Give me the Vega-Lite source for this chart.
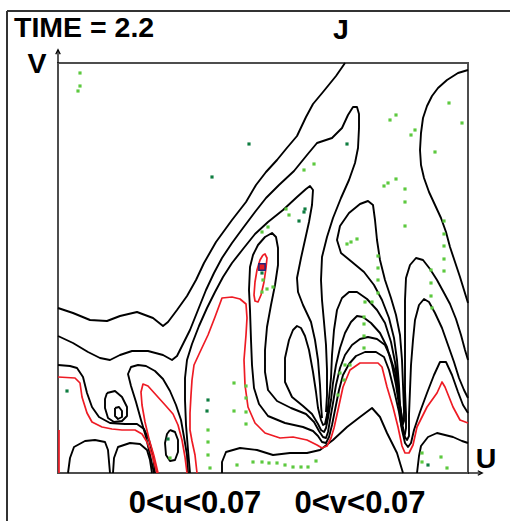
{
"$schema": "https://vega.github.io/schema/vega-lite/v6.json",
"width": 410, "height": 410,
"autosize": {"type": "none"},
"padding": {"left": 58, "top": 63, "right": 42, "bottom": 48},
"background": "white",
"config": {"view": {"stroke": "#4d4d4d", "strokeWidth": 2}},
"datasets": {
"blk": [
{"i":"B1","x":58,"y":308},{"i":"B1","x":73,"y":313},{"i":"B1","x":90,"y":320},{"i":"B1","x":107,"y":321},{"i":"B1","x":120,"y":316},{"i":"B1","x":137,"y":312},{"i":"B1","x":153,"y":318},{"i":"B1","x":163,"y":326},{"i":"B1","x":168,"y":322},{"i":"B1","x":177,"y":310},{"i":"B1","x":187,"y":296},{"i":"B1","x":196,"y":280},{"i":"B1","x":204,"y":263},{"i":"B1","x":216,"y":242},{"i":"B1","x":232,"y":220},{"i":"B1","x":246,"y":202},{"i":"B1","x":256,"y":185},{"i":"B1","x":266,"y":172},{"i":"B1","x":277,"y":160},{"i":"B1","x":286,"y":149},{"i":"B1","x":297,"y":136},{"i":"B1","x":306,"y":117},{"i":"B1","x":313,"y":104},{"i":"B1","x":323,"y":92},{"i":"B1","x":336,"y":76},{"i":"B1","x":345,"y":63},
{"i":"B2","x":58,"y":336},{"i":"B2","x":73,"y":343},{"i":"B2","x":88,"y":352},{"i":"B2","x":100,"y":358},{"i":"B2","x":110,"y":360},{"i":"B2","x":120,"y":355},{"i":"B2","x":132,"y":351},{"i":"B2","x":148,"y":351},{"i":"B2","x":163,"y":355},{"i":"B2","x":172,"y":360},{"i":"B2","x":177,"y":356},{"i":"B2","x":182,"y":346},{"i":"B2","x":190,"y":330},{"i":"B2","x":198,"y":310},{"i":"B2","x":206,"y":290},{"i":"B2","x":214,"y":273},{"i":"B2","x":222,"y":258},{"i":"B2","x":232,"y":243},{"i":"B2","x":243,"y":228},{"i":"B2","x":255,"y":212},{"i":"B2","x":266,"y":198},{"i":"B2","x":279,"y":185},{"i":"B2","x":294,"y":171},{"i":"B2","x":307,"y":155},{"i":"B2","x":317,"y":143},{"i":"B2","x":332,"y":138},{"i":"B2","x":342,"y":128},{"i":"B2","x":348,"y":115},{"i":"B2","x":353,"y":107},{"i":"B2","x":357,"y":107},{"i":"B2","x":359,"y":114},{"i":"B2","x":359,"y":128},{"i":"B2","x":358,"y":148},{"i":"B2","x":355,"y":163},{"i":"B2","x":349,"y":180},{"i":"B2","x":341,"y":198},{"i":"B2","x":333,"y":218},{"i":"B2","x":327,"y":237},{"i":"B2","x":322,"y":257},{"i":"B2","x":321,"y":280},{"i":"B2","x":322,"y":300},{"i":"B2","x":324,"y":322},{"i":"B2","x":326,"y":345},{"i":"B2","x":327,"y":370},{"i":"B2","x":327,"y":395},{"i":"B2","x":326,"y":412},
{"i":"C3","x":190,"y":473},{"i":"C3","x":188,"y":450},{"i":"C3","x":186,"y":425},{"i":"C3","x":185,"y":400},{"i":"C3","x":185,"y":378},{"i":"C3","x":187,"y":360},{"i":"C3","x":192,"y":344},{"i":"C3","x":199,"y":326},{"i":"C3","x":207,"y":308},{"i":"C3","x":215,"y":292},{"i":"C3","x":223,"y":277},{"i":"C3","x":232,"y":263},{"i":"C3","x":243,"y":249},{"i":"C3","x":255,"y":234},{"i":"C3","x":268,"y":222},{"i":"C3","x":283,"y":210},{"i":"C3","x":297,"y":197},{"i":"C3","x":306,"y":189},{"i":"C3","x":310,"y":186},{"i":"C3","x":313,"y":190},{"i":"C3","x":312,"y":205},{"i":"C3","x":309,"y":222},{"i":"C3","x":305,"y":240},{"i":"C3","x":301,"y":258},{"i":"C3","x":297,"y":278},{"i":"C3","x":298,"y":292},{"i":"C3","x":303,"y":305},{"i":"C3","x":311,"y":322},{"i":"C3","x":315,"y":340},{"i":"C3","x":318,"y":360},{"i":"C3","x":320,"y":385},{"i":"C3","x":321,"y":405},{"i":"C3","x":322,"y":418},
{"i":"P1","x":468,"y":413},{"i":"P1","x":463,"y":405},{"i":"P1","x":458,"y":392},{"i":"P1","x":452,"y":375},{"i":"P1","x":446,"y":362},{"i":"P1","x":440,"y":362},{"i":"P1","x":434,"y":375},{"i":"P1","x":427,"y":393},{"i":"P1","x":420,"y":412},{"i":"P1","x":414,"y":430},{"i":"P1","x":411,"y":443},{"i":"P1","x":408,"y":447},{"i":"P1","x":405,"y":443},{"i":"P1","x":402,"y":430},{"i":"P1","x":399,"y":412},{"i":"P1","x":394,"y":390},{"i":"P1","x":389,"y":370},{"i":"P1","x":384,"y":357},{"i":"P1","x":376,"y":352},{"i":"P1","x":365,"y":352},{"i":"P1","x":356,"y":356},{"i":"P1","x":349,"y":364},{"i":"P1","x":343,"y":375},{"i":"P1","x":339,"y":390},{"i":"P1","x":335,"y":410},{"i":"P1","x":332,"y":425},{"i":"P1","x":329,"y":437},{"i":"P1","x":326,"y":443},{"i":"P1","x":322,"y":442},{"i":"P1","x":318,"y":436},{"i":"P1","x":313,"y":431},{"i":"P1","x":303,"y":427},{"i":"P1","x":285,"y":423},{"i":"P1","x":268,"y":416},{"i":"P1","x":259,"y":404},{"i":"P1","x":254,"y":388},{"i":"P1","x":252,"y":365},{"i":"P1","x":251,"y":340},{"i":"P1","x":250,"y":310},{"i":"P1","x":249,"y":290},{"i":"P1","x":250,"y":267},{"i":"P1","x":253,"y":255},{"i":"P1","x":258,"y":245},{"i":"P1","x":265,"y":237},{"i":"P1","x":272,"y":233},{"i":"P1","x":276,"y":237},{"i":"P1","x":278,"y":248},{"i":"P1","x":278,"y":265},{"i":"P1","x":275,"y":285},{"i":"P1","x":271,"y":305},{"i":"P1","x":267,"y":327},{"i":"P1","x":265,"y":350},{"i":"P1","x":265,"y":372},{"i":"P1","x":268,"y":390},{"i":"P1","x":277,"y":401},{"i":"P1","x":291,"y":408},{"i":"P1","x":306,"y":414},{"i":"P1","x":314,"y":422},{"i":"P1","x":319,"y":431},{"i":"P1","x":323,"y":437},{"i":"P1","x":326,"y":438},{"i":"P1","x":328,"y":432},{"i":"P1","x":330,"y":420},{"i":"P1","x":333,"y":403},{"i":"P1","x":336,"y":385},{"i":"P1","x":340,"y":368},{"i":"P1","x":345,"y":355},{"i":"P1","x":352,"y":345},{"i":"P1","x":360,"y":339},{"i":"P1","x":368,"y":337},{"i":"P1","x":377,"y":339},{"i":"P1","x":385,"y":345},{"i":"P1","x":390,"y":356},{"i":"P1","x":395,"y":372},{"i":"P1","x":398,"y":392},{"i":"P1","x":401,"y":412},{"i":"P1","x":403,"y":428},{"i":"P1","x":405,"y":437},{"i":"P1","x":407,"y":440},{"i":"P1","x":409,"y":436},{"i":"P1","x":409,"y":415},{"i":"P1","x":410,"y":390},{"i":"P1","x":411,"y":365},{"i":"P1","x":413,"y":340},{"i":"P1","x":415,"y":320},{"i":"P1","x":419,"y":305},{"i":"P1","x":424,"y":299},{"i":"P1","x":429,"y":302},{"i":"P1","x":435,"y":313},{"i":"P1","x":442,"y":328},{"i":"P1","x":448,"y":345},{"i":"P1","x":454,"y":362},{"i":"P1","x":459,"y":378},{"i":"P1","x":464,"y":390},{"i":"P1","x":468,"y":398},
{"i":"P2","x":468,"y":360},{"i":"P2","x":465,"y":350},{"i":"P2","x":461,"y":335},{"i":"P2","x":456,"y":319},{"i":"P2","x":450,"y":304},{"i":"P2","x":443,"y":291},{"i":"P2","x":437,"y":280},{"i":"P2","x":430,"y":269},{"i":"P2","x":423,"y":260},{"i":"P2","x":416,"y":258},{"i":"P2","x":410,"y":265},{"i":"P2","x":406,"y":278},{"i":"P2","x":405,"y":300},{"i":"P2","x":405,"y":330},{"i":"P2","x":405,"y":360},{"i":"P2","x":405,"y":390},{"i":"P2","x":406,"y":415},{"i":"P2","x":406,"y":428},{"i":"P2","x":405,"y":434},{"i":"P2","x":403,"y":432},{"i":"P2","x":401,"y":424},{"i":"P2","x":399,"y":405},{"i":"P2","x":396,"y":385},{"i":"P2","x":392,"y":365},{"i":"P2","x":387,"y":347},{"i":"P2","x":380,"y":333},{"i":"P2","x":371,"y":323},{"i":"P2","x":363,"y":317},{"i":"P2","x":357,"y":316},{"i":"P2","x":351,"y":322},{"i":"P2","x":345,"y":333},{"i":"P2","x":340,"y":348},{"i":"P2","x":336,"y":365},{"i":"P2","x":333,"y":383},{"i":"P2","x":331,"y":400},{"i":"P2","x":328,"y":418},{"i":"P2","x":326,"y":428},{"i":"P2","x":324,"y":432},{"i":"P2","x":321,"y":430},{"i":"P2","x":318,"y":424},{"i":"P2","x":312,"y":414},{"i":"P2","x":303,"y":406},{"i":"P2","x":292,"y":397},{"i":"P2","x":285,"y":382},{"i":"P2","x":285,"y":358},{"i":"P2","x":289,"y":340},{"i":"P2","x":293,"y":330},{"i":"P2","x":297,"y":326},{"i":"P2","x":301,"y":328},{"i":"P2","x":305,"y":336},{"i":"P2","x":309,"y":350},{"i":"P2","x":313,"y":372},{"i":"P2","x":316,"y":392},{"i":"P2","x":318,"y":408},{"i":"P2","x":321,"y":420},{"i":"P2","x":323,"y":425},{"i":"P2","x":325,"y":424},{"i":"P2","x":327,"y":415},{"i":"P2","x":329,"y":398},{"i":"P2","x":331,"y":378},{"i":"P2","x":332,"y":355},{"i":"P2","x":334,"y":330},{"i":"P2","x":337,"y":310},{"i":"P2","x":342,"y":298},{"i":"P2","x":349,"y":292},{"i":"P2","x":357,"y":292},{"i":"P2","x":367,"y":299},{"i":"P2","x":377,"y":310},{"i":"P2","x":385,"y":323},{"i":"P2","x":391,"y":342},{"i":"P2","x":395,"y":362},{"i":"P2","x":398,"y":385},{"i":"P2","x":400,"y":405},{"i":"P2","x":402,"y":418},{"i":"P2","x":403,"y":424},{"i":"P2","x":404,"y":421},{"i":"P2","x":404,"y":410},{"i":"P2","x":403,"y":385},{"i":"P2","x":402,"y":360},{"i":"P2","x":400,"y":335},{"i":"P2","x":396,"y":315},{"i":"P2","x":391,"y":298},{"i":"P2","x":385,"y":280},{"i":"P2","x":380,"y":260},{"i":"P2","x":377,"y":240},{"i":"P2","x":375,"y":220},{"i":"P2","x":373,"y":205},{"i":"P2","x":368,"y":201},{"i":"P2","x":360,"y":204},{"i":"P2","x":349,"y":213},{"i":"P2","x":340,"y":226},{"i":"P2","x":337,"y":240},{"i":"P2","x":341,"y":253},{"i":"P2","x":352,"y":262},{"i":"P2","x":364,"y":272},{"i":"P2","x":374,"y":285},{"i":"P2","x":382,"y":300},{"i":"P2","x":389,"y":318},{"i":"P2","x":394,"y":338},{"i":"P2","x":397,"y":360},{"i":"P2","x":399,"y":385},{"i":"P2","x":400,"y":405},{"i":"P2","x":401,"y":418},
{"i":"CI","x":468,"y":70},{"i":"CI","x":458,"y":73},{"i":"CI","x":447,"y":80},{"i":"CI","x":438,"y":88},{"i":"CI","x":432,"y":96},{"i":"CI","x":427,"y":106},{"i":"CI","x":423,"y":118},{"i":"CI","x":421,"y":133},{"i":"CI","x":420,"y":150},{"i":"CI","x":421,"y":165},{"i":"CI","x":424,"y":178},{"i":"CI","x":429,"y":192},{"i":"CI","x":435,"y":205},{"i":"CI","x":441,"y":218},{"i":"CI","x":446,"y":232},{"i":"CI","x":450,"y":247},{"i":"CI","x":455,"y":262},{"i":"CI","x":460,"y":277},{"i":"CI","x":464,"y":290},{"i":"CI","x":468,"y":303},
{"i":"LA","x":222,"y":473},{"i":"LA","x":222,"y":462},{"i":"LA","x":226,"y":452},{"i":"LA","x":240,"y":448},{"i":"LA","x":257,"y":450},{"i":"LA","x":273,"y":455},{"i":"LA","x":290,"y":453},{"i":"LA","x":307,"y":453},{"i":"LA","x":320,"y":450},{"i":"LA","x":333,"y":440},{"i":"LA","x":347,"y":427},{"i":"LA","x":360,"y":417},{"i":"LA","x":372,"y":408},{"i":"LA","x":380,"y":417},{"i":"LA","x":387,"y":433},{"i":"LA","x":397,"y":453},{"i":"LA","x":403,"y":473},
{"i":"BR","x":417,"y":473},{"i":"BR","x":419,"y":456},{"i":"BR","x":421,"y":446},{"i":"BR","x":428,"y":437},{"i":"BR","x":437,"y":433},{"i":"BR","x":453,"y":437},{"i":"BR","x":462,"y":441},{"i":"BR","x":468,"y":443},
{"i":"C4","x":58,"y":365},{"i":"C4","x":70,"y":366},{"i":"C4","x":77,"y":368},{"i":"C4","x":83,"y":377},{"i":"C4","x":87,"y":393},{"i":"C4","x":92,"y":407},{"i":"C4","x":99,"y":417},{"i":"C4","x":110,"y":423},{"i":"C4","x":125,"y":424},{"i":"C4","x":137,"y":424},{"i":"C4","x":144,"y":429},{"i":"C4","x":149,"y":440},{"i":"C4","x":153,"y":455},{"i":"C4","x":155,"y":473},
{"i":"E1","x":107,"y":393},{"i":"E1","x":115,"y":391},{"i":"E1","x":122,"y":397},{"i":"E1","x":127,"y":407},{"i":"E1","x":127,"y":416},{"i":"E1","x":122,"y":421},{"i":"E1","x":114,"y":422},{"i":"E1","x":108,"y":418},{"i":"E1","x":105,"y":408},{"i":"E1","x":105,"y":399},{"i":"E1","x":107,"y":393},
{"i":"E2","x":115,"y":408},{"i":"E2","x":119,"y":407},{"i":"E2","x":122,"y":411},{"i":"E2","x":122,"y":417},{"i":"E2","x":118,"y":419},{"i":"E2","x":115,"y":416},{"i":"E2","x":115,"y":408},
{"i":"K","x":154,"y":473},{"i":"K","x":150,"y":455},{"i":"K","x":146,"y":437},{"i":"K","x":141,"y":420},{"i":"K","x":136,"y":402},{"i":"K","x":131,"y":386},{"i":"K","x":128,"y":374},{"i":"K","x":131,"y":367},{"i":"K","x":138,"y":365},{"i":"K","x":146,"y":366},{"i":"K","x":155,"y":371},{"i":"K","x":163,"y":379},{"i":"K","x":170,"y":391},{"i":"K","x":176,"y":405},{"i":"K","x":181,"y":420},{"i":"K","x":184,"y":437},{"i":"K","x":187,"y":455},{"i":"K","x":188,"y":473},
{"i":"E3","x":170,"y":430},{"i":"E3","x":175,"y":432},{"i":"E3","x":178,"y":440},{"i":"E3","x":178,"y":452},{"i":"E3","x":175,"y":460},{"i":"E3","x":170,"y":461},{"i":"E3","x":166,"y":455},{"i":"E3","x":165,"y":443},{"i":"E3","x":167,"y":434},{"i":"E3","x":170,"y":430},
{"i":"BL1","x":68,"y":473},{"i":"BL1","x":70,"y":458},{"i":"BL1","x":74,"y":447},{"i":"BL1","x":85,"y":441},{"i":"BL1","x":95,"y":440},{"i":"BL1","x":105,"y":442},{"i":"BL1","x":108,"y":450},{"i":"BL1","x":110,"y":473},
{"i":"BL2","x":113,"y":473},{"i":"BL2","x":114,"y":458},{"i":"BL2","x":118,"y":447},{"i":"BL2","x":130,"y":443},{"i":"BL2","x":140,"y":444},{"i":"BL2","x":147,"y":450},{"i":"BL2","x":150,"y":460},{"i":"BL2","x":152,"y":473}
],
"red": [
{"i":"R1","x":58,"y":377},{"i":"R1","x":75,"y":378},{"i":"R1","x":80,"y":383},{"i":"R1","x":82,"y":397},{"i":"R1","x":87,"y":413},{"i":"R1","x":92,"y":422},{"i":"R1","x":102,"y":427},{"i":"R1","x":112,"y":429},{"i":"R1","x":122,"y":430},{"i":"R1","x":135,"y":430},{"i":"R1","x":142,"y":434},{"i":"R1","x":147,"y":442},{"i":"R1","x":152,"y":455},{"i":"R1","x":157,"y":473},
{"i":"RL","x":59,"y":430},{"i":"RL","x":59,"y":473},
{"i":"R2","x":158,"y":473},{"i":"R2","x":154,"y":456},{"i":"R2","x":149,"y":439},{"i":"R2","x":145,"y":422},{"i":"R2","x":142,"y":405},{"i":"R2","x":141,"y":392},{"i":"R2","x":143,"y":384},{"i":"R2","x":148,"y":386},{"i":"R2","x":157,"y":396},{"i":"R2","x":166,"y":406},{"i":"R2","x":173,"y":414},{"i":"R2","x":178,"y":425},{"i":"R2","x":182,"y":440},{"i":"R2","x":185,"y":457},{"i":"R2","x":187,"y":473},
{"i":"R3","x":197,"y":473},{"i":"R3","x":195,"y":455},{"i":"R3","x":192,"y":441},{"i":"R3","x":190,"y":430},{"i":"R3","x":190,"y":413},{"i":"R3","x":191,"y":395},{"i":"R3","x":192,"y":380},{"i":"R3","x":194,"y":365},{"i":"R3","x":200,"y":352},{"i":"R3","x":208,"y":335},{"i":"R3","x":215,"y":317},{"i":"R3","x":222,"y":298},{"i":"R3","x":232,"y":297},{"i":"R3","x":240,"y":299},{"i":"R3","x":246,"y":304},{"i":"R3","x":247,"y":318},{"i":"R3","x":246,"y":335},{"i":"R3","x":244,"y":360},{"i":"R3","x":245,"y":385},{"i":"R3","x":248,"y":407},{"i":"R3","x":255,"y":423},{"i":"R3","x":265,"y":433},{"i":"R3","x":280,"y":438},{"i":"R3","x":293,"y":437},{"i":"R3","x":307,"y":440},{"i":"R3","x":317,"y":445},{"i":"R3","x":322,"y":448},{"i":"R3","x":327,"y":446},{"i":"R3","x":331,"y":438},{"i":"R3","x":334,"y":428},{"i":"R3","x":338,"y":410},{"i":"R3","x":343,"y":387},{"i":"R3","x":350,"y":370},{"i":"R3","x":360,"y":363},{"i":"R3","x":378,"y":363},{"i":"R3","x":382,"y":367},{"i":"R3","x":387,"y":387},{"i":"R3","x":393,"y":407},{"i":"R3","x":398,"y":427},{"i":"R3","x":402,"y":446},{"i":"R3","x":405,"y":453},{"i":"R3","x":409,"y":453},{"i":"R3","x":413,"y":445},{"i":"R3","x":417,"y":427},{"i":"R3","x":427,"y":407},{"i":"R3","x":437,"y":393},{"i":"R3","x":442,"y":382},{"i":"R3","x":445,"y":387},{"i":"R3","x":453,"y":407},{"i":"R3","x":460,"y":420},{"i":"R3","x":468,"y":423},
{"i":"RS","x":263,"y":255},{"i":"RS","x":260,"y":260},{"i":"RS","x":257,"y":270},{"i":"RS","x":255,"y":282},{"i":"RS","x":254,"y":295},{"i":"RS","x":255,"y":301},{"i":"RS","x":258,"y":302},{"i":"RS","x":261,"y":295},{"i":"RS","x":264,"y":282},{"i":"RS","x":266,"y":268},{"i":"RS","x":267,"y":258},{"i":"RS","x":265,"y":254},{"i":"RS","x":263,"y":255}
],
"dots": [
{"k":"l","x":80,"y":73},{"k":"l","x":80,"y":86},{"k":"l","x":78,"y":91},
{"k":"l","x":390,"y":120},{"k":"l","x":396,"y":115},{"k":"l","x":415,"y":130},{"k":"l","x":411,"y":135},{"k":"l","x":449,"y":103},{"k":"l","x":462,"y":123},{"k":"l","x":435,"y":152},
{"k":"l","x":304,"y":170},{"k":"l","x":314,"y":164},
{"k":"l","x":384,"y":186},{"k":"l","x":388,"y":183},{"k":"l","x":396,"y":179},{"k":"l","x":405,"y":189},{"k":"l","x":405,"y":202},{"k":"l","x":405,"y":226},
{"k":"l","x":286,"y":209},{"k":"l","x":289,"y":215},{"k":"l","x":262,"y":232},{"k":"l","x":268,"y":227},
{"k":"l","x":347,"y":244},{"k":"l","x":351,"y":242},{"k":"l","x":357,"y":239},
{"k":"l","x":378,"y":256},{"k":"l","x":378,"y":268},{"k":"l","x":378,"y":280},{"k":"l","x":378,"y":293},
{"k":"l","x":444,"y":221},{"k":"l","x":444,"y":234},{"k":"l","x":444,"y":246},{"k":"l","x":444,"y":259},{"k":"l","x":444,"y":271},
{"k":"l","x":431,"y":270},{"k":"l","x":431,"y":283},{"k":"l","x":431,"y":296},{"k":"l","x":432,"y":308},
{"k":"l","x":365,"y":302},{"k":"l","x":372,"y":302},{"k":"l","x":364,"y":317},{"k":"l","x":364,"y":324},{"k":"l","x":364,"y":336},{"k":"l","x":364,"y":348},
{"k":"l","x":340,"y":373},{"k":"l","x":345,"y":365},{"k":"l","x":350,"y":365},{"k":"l","x":344,"y":380},{"k":"l","x":338,"y":395},
{"k":"l","x":263,"y":280},{"k":"l","x":262,"y":292},{"k":"l","x":267,"y":289},{"k":"l","x":273,"y":287},
{"k":"l","x":234,"y":383},{"k":"l","x":246,"y":386},{"k":"l","x":234,"y":411},{"k":"l","x":246,"y":398},{"k":"l","x":246,"y":412},{"k":"l","x":246,"y":424},
{"k":"l","x":208,"y":430},{"k":"l","x":208,"y":442},{"k":"l","x":208,"y":455},{"k":"l","x":210,"y":468},
{"k":"l","x":237,"y":465},{"k":"l","x":253,"y":462},{"k":"l","x":262,"y":462},{"k":"l","x":269,"y":463},{"k":"l","x":277,"y":463},{"k":"l","x":285,"y":465},{"k":"l","x":293,"y":467},{"k":"l","x":301,"y":467},{"k":"l","x":308,"y":467},{"k":"l","x":316,"y":461},
{"k":"l","x":422,"y":453},{"k":"l","x":422,"y":462},{"k":"l","x":441,"y":457},{"k":"l","x":447,"y":468},
{"k":"l","x":170,"y":458},
{"k":"d","x":249,"y":144},{"k":"d","x":212,"y":177},{"k":"d","x":347,"y":144},
{"k":"d","x":305,"y":209},{"k":"d","x":299,"y":221},{"k":"d","x":304,"y":212},
{"k":"d","x":262,"y":273},{"k":"d","x":208,"y":400},{"k":"d","x":207,"y":411},
{"k":"d","x":67,"y":391},{"k":"d","x":168,"y":439},{"k":"d","x":428,"y":465}
]
},
"encoding": {
"x": {"field": "x", "type": "quantitative", "scale": {"domain": [58, 468], "nice": false, "zero": false}, "axis": null},
"y": {"field": "y", "type": "quantitative", "scale": {"domain": [63, 473], "reverse": true, "nice": false, "zero": false}, "axis": null}
},
"layer": [
{"data": {"name": "blk"}, "mark": {"type": "line", "stroke": "#000000", "strokeWidth": 1.9, "strokeJoin": "round"},
 "encoding": {"detail": {"field": "i", "type": "nominal"}, "order": {"value": null}}},
{"data": {"name": "red"}, "mark": {"type": "line", "stroke": "#ee1b24", "strokeWidth": 1.7, "strokeJoin": "round"},
 "encoding": {"detail": {"field": "i", "type": "nominal"}, "order": {"value": null}}},
{"data": {"name": "dots"}, "mark": {"type": "square", "size": 10, "opacity": 1},
 "encoding": {"color": {"field": "k", "type": "nominal", "scale": {"domain": ["l", "d"], "range": ["#5cc93e", "#0e7d40"]}, "legend": null}}},
{"data": {"values": [{"x": 262, "y": 267}]}, "mark": {"type": "point", "shape": "square", "filled": true, "fill": "#e61e25", "stroke": "#23237a", "strokeWidth": 1.5, "size": 40, "opacity": 1}},
{"data": {"values": [{"x": 7, "y": 11, "x2": 7, "y2": 530}, {"x": 7, "y": 11, "x2": 515, "y2": 11}]},
 "mark": {"type": "rule", "stroke": "#333333", "strokeWidth": 2},
 "encoding": {"x2": {"field": "x2"}, "y2": {"field": "y2"}}},
{"data": {"values": [{"x": 58, "y": 50, "x2": 58, "y2": 63}, {"x": 468, "y": 473, "x2": 481, "y2": 473}]},
 "mark": {"type": "rule", "stroke": "#000000", "strokeWidth": 1.3},
 "encoding": {"x2": {"field": "x2"}, "y2": {"field": "y2"}}},
{"data": {"values": [{"x": 58, "y": 52}]}, "mark": {"type": "point", "shape": "M-1,1L0,-1L1,1", "filled": false, "stroke": "#000000", "strokeWidth": 1.3, "size": 20, "opacity": 1}},
{"data": {"values": [{"x": 480, "y": 473}]}, "mark": {"type": "point", "shape": "M-1,-1L1,0L-1,1", "filled": false, "stroke": "#000000", "strokeWidth": 1.3, "size": 20, "opacity": 1}},
{"data": {"values": [{"x": 14, "y": 37, "t": "TIME = 2.2"}]}, "mark": {"type": "text", "font": "Liberation Sans", "fontWeight": "bold", "fontSize": 28.5, "align": "left", "baseline": "alphabetic", "color": "#000000"},
 "encoding": {"text": {"field": "t"}}},
{"data": {"values": [{"x": 341, "y": 39, "t": "J"}, {"x": 37, "y": 73, "t": "V"}, {"x": 486, "y": 468, "t": "U"}]}, "mark": {"type": "text", "font": "Liberation Sans", "fontWeight": "bold", "fontSize": 28.5, "align": "center", "baseline": "alphabetic", "color": "#000000"},
 "encoding": {"text": {"field": "t"}}},
{"data": {"values": [{"x": 195, "y": 513, "t": "0<u<0.07"}, {"x": 360, "y": 513, "t": "0<v<0.07"}]}, "mark": {"type": "text", "font": "Liberation Sans", "fontWeight": "bold", "fontSize": 31, "align": "center", "baseline": "alphabetic", "color": "#000000"},
 "encoding": {"text": {"field": "t"}}}
]
}
